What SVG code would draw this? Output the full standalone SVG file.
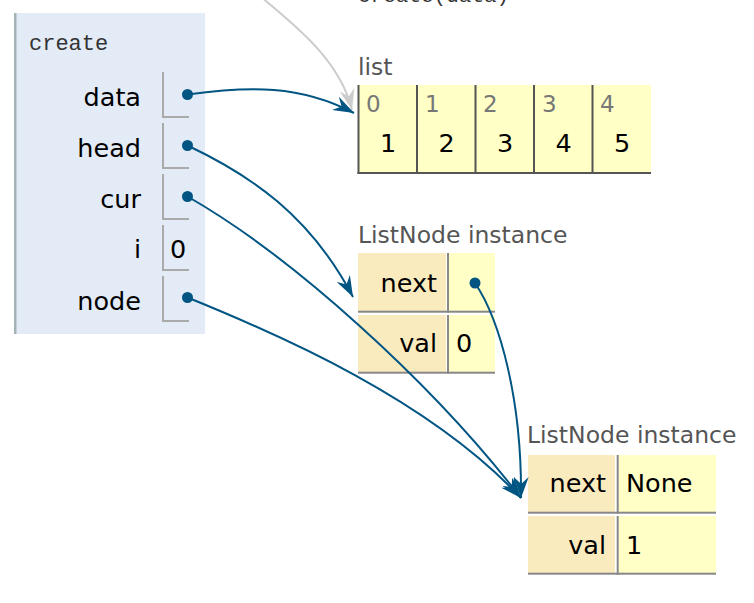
<svg xmlns="http://www.w3.org/2000/svg" width="754" height="603" viewBox="0 0 754 603">
<style>
.mono{font-family:"Liberation Mono","DejaVu Sans Mono",monospace;fill:#333}
.nm{font-family:"DejaVu Sans",Verdana,sans-serif;font-size:25.5px;fill:#000}
.r{text-anchor:end}
.lbl{font-family:"DejaVu Sans",Verdana,sans-serif;font-size:23.5px;fill:#555}
.idx{font-family:"DejaVu Sans",Verdana,sans-serif;fill:#777}
.mid{text-anchor:middle}
.vb{fill:#aaaaaa}
.lc{fill:#ffffc6}
.lb{fill:#555555}
.key{fill:#faebbf}
.val{fill:#ffffc6}
.nb{fill:#888888}
.dot{fill:#005583}
.arr{fill:none;stroke:#005583;stroke-width:2}
.arrg{fill:none;stroke:#cccccc;stroke-width:2}
</style>
<defs>
<marker id="ah" markerUnits="userSpaceOnUse" viewBox="0 0 21 15" refX="21" refY="7.5" markerWidth="21" markerHeight="15" orient="auto">
<path d="M0,0 L21,7.5 L0,15 L7,7.5 Z" fill="#005583"/>
</marker>
<marker id="ahg" markerUnits="userSpaceOnUse" viewBox="0 0 21 15" refX="21" refY="7.5" markerWidth="21" markerHeight="15" orient="auto">
<path d="M0,0 L21,7.5 L0,15 L7,7.5 Z" fill="#cccccc"/>
</marker>
</defs>
<rect width="754" height="603" fill="#ffffff"/>
<text class="mono" x="358" y="2" font-size="21">create(data)</text>

<g id="frame-create">
<rect x="14" y="13" width="191" height="321" fill="#e2ebf6"/>
<rect x="14" y="13" width="2.5" height="321" fill="#a6b3b6"/>
<text class="mono" x="29" y="50" font-size="22">create</text>
<g id="var-data">
<text class="nm r" x="141" y="106">data</text>
<rect class="vb" x="162" y="72" width="2" height="46"/><rect class="vb" x="162" y="116" width="27" height="2"/>
<circle class="dot" cx="187.5" cy="94.5" r="5.5"/>
</g>
<g id="var-head">
<text class="nm r" x="141" y="157">head</text>
<rect class="vb" x="162" y="123" width="2" height="46"/><rect class="vb" x="162" y="167" width="27" height="2"/>
<circle class="dot" cx="187.5" cy="145.5" r="5.5"/>
</g>
<g id="var-cur">
<text class="nm r" x="141" y="208">cur</text>
<rect class="vb" x="162" y="174" width="2" height="46"/><rect class="vb" x="162" y="218" width="27" height="2"/>
<circle class="dot" cx="187.5" cy="196.5" r="5.5"/>
</g>
<g id="var-i">
<text class="nm r" x="141" y="258">i</text>
<rect class="vb" x="162" y="225" width="2" height="46"/><rect class="vb" x="162" y="269" width="27" height="2"/>
<text class="nm" x="170" y="258">0</text>
</g>
<g id="var-node">
<text class="nm r" x="141" y="310">node</text>
<rect class="vb" x="162" y="276" width="2" height="46"/><rect class="vb" x="162" y="320" width="27" height="2"/>
<circle class="dot" cx="187.5" cy="297.5" r="5.5"/>
</g>
</g>

<g id="list">
<text class="lbl" x="358" y="75">list</text>
<rect class="lc" x="358" y="85" width="293" height="89"/>
<rect class="lb" x="357.5" y="85" width="2" height="89"/>
<rect class="lb" x="416" y="85" width="2" height="89"/>
<rect class="lb" x="474.5" y="85" width="2" height="89"/>
<rect class="lb" x="533" y="85" width="2" height="89"/>
<rect class="lb" x="591.5" y="85" width="2" height="89"/>
<rect class="lb" x="357.5" y="172" width="293.5" height="2"/>
<text class="idx" font-size="23" x="366" y="112">0</text>
<text class="idx" font-size="23" x="425" y="112">1</text>
<text class="idx" font-size="23" x="483" y="112">2</text>
<text class="idx" font-size="23" x="542" y="112">3</text>
<text class="idx" font-size="23" x="600" y="112">4</text>
<text class="nm mid" x="388" y="152">1</text>
<text class="nm mid" x="446.5" y="152">2</text>
<text class="nm mid" x="505" y="152">3</text>
<text class="nm mid" x="563.5" y="152">4</text>
<text class="nm mid" x="622" y="152">5</text>
</g>

<g id="listnode-1">
<text class="lbl" x="358" y="243">ListNode instance</text>
<rect class="key" x="358" y="253" width="88" height="58"/>
<rect class="val" x="449" y="253" width="46" height="58"/>
<rect class="nb" x="447" y="253" width="2" height="59.7"/>
<rect class="nb" x="358" y="310.7" width="137" height="2"/>
<rect class="key" x="358" y="315" width="88" height="57"/>
<rect class="val" x="449" y="315" width="46" height="57"/>
<rect class="nb" x="447" y="315" width="2" height="58.7"/>
<rect class="nb" x="358" y="371.7" width="137" height="2"/>
<text class="nm r" x="437" y="292">next</text>
<text class="nm r" x="437" y="352">val</text>
<text class="nm" x="456" y="352">0</text>
<circle class="dot" cx="475" cy="283" r="5.5"/>
</g>

<g id="listnode-2">
<text class="lbl" x="527" y="443">ListNode instance</text>
<rect class="key" x="528" y="455" width="87" height="57"/>
<rect class="val" x="618.7" y="455" width="97.3" height="57"/>
<rect class="nb" x="616.7" y="455" width="2" height="58.7"/>
<rect class="nb" x="528" y="511.7" width="188" height="2"/>
<rect class="key" x="528" y="516" width="87" height="57"/>
<rect class="val" x="618.7" y="516" width="97.3" height="57"/>
<rect class="nb" x="616.7" y="516" width="2" height="58.7"/>
<rect class="nb" x="528" y="572.7" width="188" height="2"/>
<text class="nm r" x="606" y="492">next</text>
<text class="nm" x="626" y="492">None</text>
<text class="nm r" x="606" y="554">val</text>
<text class="nm" x="626" y="554">1</text>
</g>

<g id="connectors">
<path class="arrg" d="M255,-8 C295,25 340,60 352,110" marker-end="url(#ahg)"/>
<path class="arr" d="M187.5,94.5 C250,86 300,85 354,113" marker-end="url(#ah)"/>
<path class="arr" d="M187.5,145.5 C250,175 310,215 353,297" marker-end="url(#ah)"/>
<path class="arr" d="M187.5,196.5 C290,255 430,380 521,498" marker-end="url(#ah)"/>
<path class="arr" d="M187.5,297.5 C280,335 430,400 521,498" marker-end="url(#ah)"/>
<path class="arr" d="M475,283 C500,320 522,400 521,498" marker-end="url(#ah)"/>
</g>
</svg>
